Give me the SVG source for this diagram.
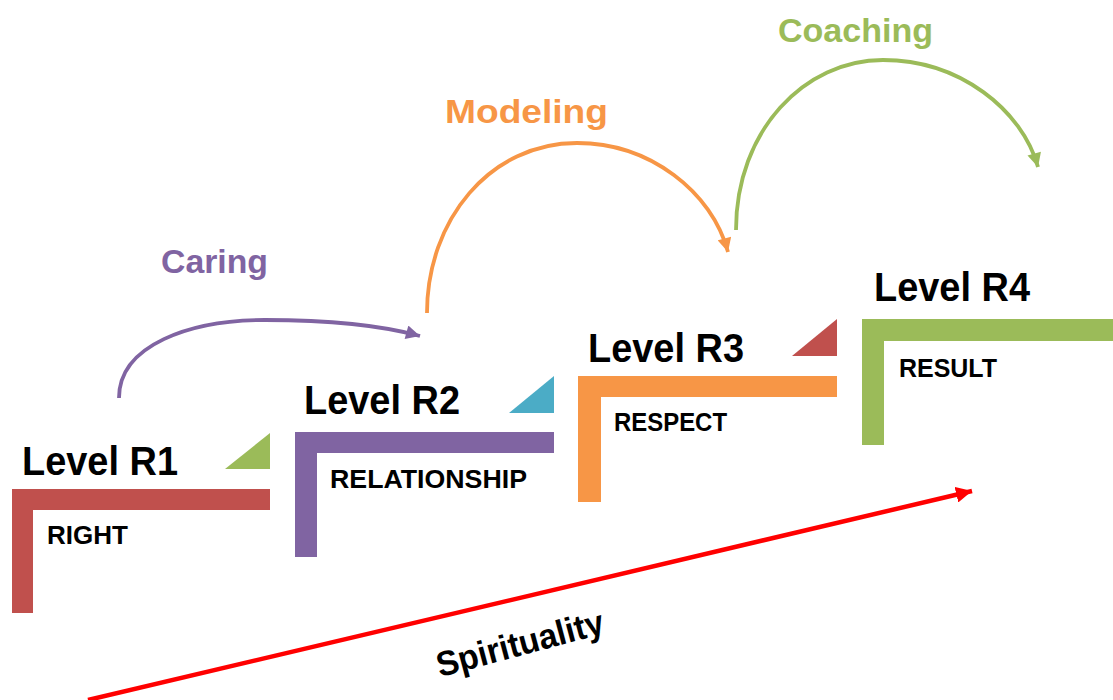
<svg xmlns="http://www.w3.org/2000/svg" width="1113" height="700" viewBox="0 0 1113 700">
  <defs>
    <style>
      text { font-family: "Liberation Sans", Arial, sans-serif; font-weight: bold; }
      .level { font-size: 41px; fill: #000; }
      .name { font-size: 26px; fill: #000; }
      .verb { font-size: 34px; }
      .arc { fill: none; stroke-width: 3.8; stroke-linecap: butt; }
    </style>
    <marker id="headPurple" viewBox="0 0 10 10" refX="10" refY="5" markerWidth="15" markerHeight="14" markerUnits="userSpaceOnUse" orient="auto">
      <path d="M0,0 L10,5 L0,10 Z" fill="#8064A2"/>
    </marker>
    <marker id="headOrange" viewBox="0 0 10 10" refX="10" refY="5" markerWidth="15" markerHeight="14" markerUnits="userSpaceOnUse" orient="auto">
      <path d="M0,0 L10,5 L0,10 Z" fill="#F79646"/>
    </marker>
    <marker id="headGreen" viewBox="0 0 10 10" refX="10" refY="5" markerWidth="15" markerHeight="14" markerUnits="userSpaceOnUse" orient="auto">
      <path d="M0,0 L10,5 L0,10 Z" fill="#9BBB59"/>
    </marker>
    <marker id="headRed" viewBox="0 0 10 10" refX="10" refY="5" markerWidth="16" markerHeight="16" markerUnits="userSpaceOnUse" orient="auto">
      <path d="M0,0 L10,5 L0,10 Z" fill="#FF0000"/>
    </marker>
  </defs>

  <rect width="1113" height="700" fill="#ffffff"/>

  <!-- Steps -->
  <g id="level-r1">
    <path d="M12,489 H270 V510 H33 V613 H12 Z" fill="#C0504D"/>
    <polygon points="225,469 270,433 270,469" fill="#9BBB59"/>
    <text class="level" x="22" y="475" textLength="156" lengthAdjust="spacingAndGlyphs">Level R1</text>
    <text class="name" x="47" y="544">RIGHT</text>
  </g>

  <g id="level-r2">
    <path d="M295,432 H554 V453 H317 V557 H295 Z" fill="#8064A2"/>
    <polygon points="509,413 554,376 554,413" fill="#4BACC6"/>
    <text class="level" x="304" y="414" textLength="156" lengthAdjust="spacingAndGlyphs">Level R2</text>
    <text class="name" x="330" y="488" textLength="197" lengthAdjust="spacingAndGlyphs">RELATIONSHIP</text>
  </g>

  <g id="level-r3">
    <path d="M578,376 H837 V397 H601 V502 H578 Z" fill="#F79646"/>
    <polygon points="792,356 837,319 837,356" fill="#C0504D"/>
    <text class="level" x="588" y="362" textLength="156" lengthAdjust="spacingAndGlyphs">Level R3</text>
    <text class="name" x="614" y="431" textLength="113" lengthAdjust="spacingAndGlyphs">RESPECT</text>
  </g>

  <g id="level-r4">
    <path d="M862,319 H1113 V341 H884 V445 H862 Z" fill="#9BBB59"/>
    <text class="level" x="874" y="301" textLength="156" lengthAdjust="spacingAndGlyphs">Level R4</text>
    <text class="name" x="899" y="377" textLength="98" lengthAdjust="spacingAndGlyphs">RESULT</text>
  </g>

  <!-- Labels of the transitions -->
  <g id="label-caring">
    <text class="verb" x="161" y="273" fill="#8064A2" textLength="107" lengthAdjust="spacingAndGlyphs">Caring</text>
  </g>
  <g id="label-modeling">
    <text class="verb" x="445" y="123" fill="#F79646" textLength="163" lengthAdjust="spacingAndGlyphs">Modeling</text>
  </g>
  <g id="label-coaching">
    <text class="verb" x="778" y="42" fill="#9BBB59" textLength="155" lengthAdjust="spacingAndGlyphs">Coaching</text>
  </g>
  <g id="label-spirituality">
    <text x="523" y="655" font-size="35" fill="#000" text-anchor="middle" textLength="172" lengthAdjust="spacingAndGlyphs" transform="rotate(-15 523 655)">Spirituality</text>
  </g>

  <!-- Connectors -->
  <g id="connectors">
    <path class="arc" d="M119,398 C119,345 190,320 265,320 C330,320 380,325 420,336" stroke="#8064A2" marker-end="url(#headPurple)"/>
    <path class="arc" d="M427,313 C427,220 490,143 577,143 C650,143 712,192 728,252" stroke="#F79646" marker-end="url(#headOrange)"/>
    <path class="arc" d="M736,230 C736,130 805,60 883,60 C960,60 1022,110 1038,167" stroke="#9BBB59" marker-end="url(#headGreen)"/>
    <path d="M88,700 L972,491" fill="none" stroke="#FF0000" stroke-width="4.5" marker-end="url(#headRed)"/>
  </g>
</svg>
